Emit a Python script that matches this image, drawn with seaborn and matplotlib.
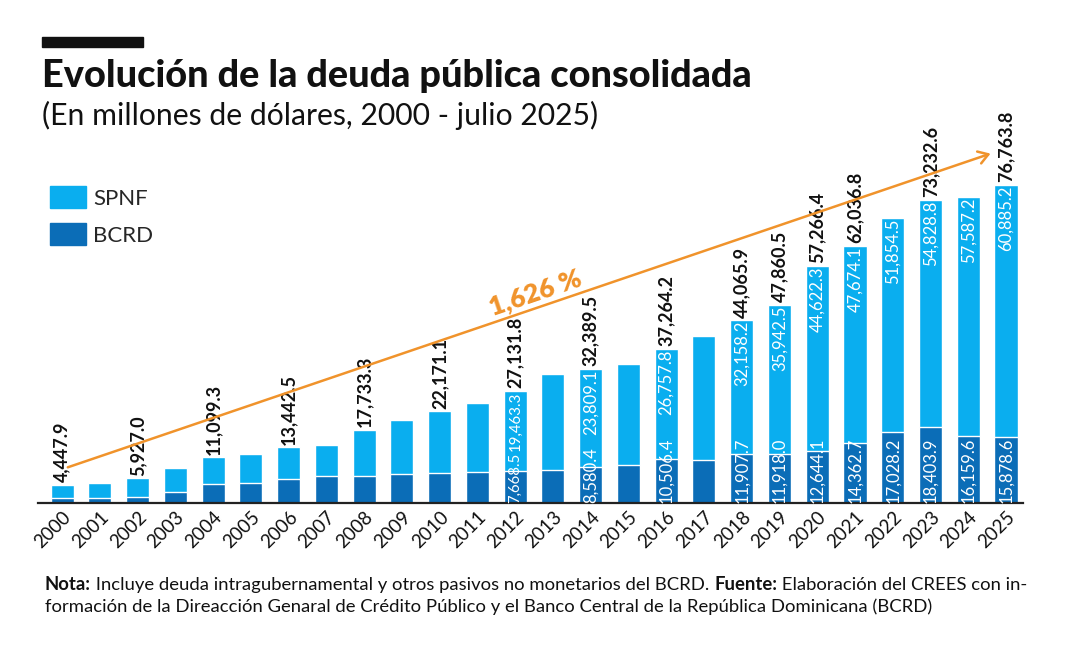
import matplotlib
matplotlib.use('Agg')
import matplotlib.pyplot as plt
import matplotlib.patches as mpatches
import seaborn as sns
import pandas as pd

years = [str(y) for y in range(2000, 2026)]
spnf = [3347.9, 3800, 4427.0, 5800, 6499.3, 7000, 7542.5, 7600, 11333.3, 13000, 14921.1, 16700,
        19463.3, 23200, 23809.1, 24400, 26757.8, 30000, 32158.2, 35942.5, 44622.3, 47674.1,
        51854.5, 54828.8, 57587.2, 60885.2]
bcrd = [1100, 1100, 1500, 2700, 4600, 4900, 5900, 6400, 6400, 7000, 7250, 7500,
        7668.5, 8000, 8580.4, 9200, 10506.4, 10400, 11907.7, 11918.0, 12644.1, 14362.7,
        17028.2, 18403.9, 16159.6, 15878.6]
total_pub = [4447.9, None, 5927.0, None, 11099.3, None, 13442.5, None, 17733.3, None, 22171.1, None,
             27131.8, None, 32389.5, None, 37264.2, None, 44065.9, 47860.5, 57266.4, 62036.8,
             None, 73232.6, None, 76763.8]
parts_shown = [False] * 12 + [True, False, True, False, True, False] + [True] * 8

growth_label = '1,626 %'
arrow_from = (0.08, 8400)
arrow_to = (24.66, 84550)

LIGHT = '#0AAEEF'
DARK = '#0B6DB7'
ORANGE = '#F0932B'
INK = '#111111'

df = pd.DataFrame({'year': years, 'spnf': spnf, 'bcrd': bcrd})
df['stack'] = df['spnf'] + df['bcrd']

sns.set_style('white')
plt.rcParams['font.family'] = ['Lato', 'DejaVu Sans']

fig = plt.figure(figsize=(10.68, 6.68), dpi=100)
ax = fig.add_axes([38 / 1068, 165 / 668, 985 / 1068, 403 / 668])

sns.barplot(data=df, x='year', y='stack', color=LIGHT, saturation=1, width=0.61, ax=ax)
sns.barplot(data=df, x='year', y='bcrd', color=DARK, saturation=1, width=0.61, ax=ax)

ax.set_xlim(-0.64, 25.45)
ax.set_ylim(0, 97270)
ax.set_xlabel('')
ax.set_ylabel('')
ax.set_yticks([])
for s in ['top', 'right', 'left']:
    ax.spines[s].set_visible(False)
ax.spines['bottom'].set_color('#222222')
ax.spines['bottom'].set_linewidth(1.6)
ax.tick_params(axis='x', length=0, pad=4)
plt.setp(ax.get_xticklabels(), rotation=45, ha='right', va='top', rotation_mode='anchor',
         fontsize=13.5, color=INK)

pairs = []
for i in range(len(years)):
    top = df['stack'][i]
    if total_pub[i] is not None:
        ax.text(i, top + 600, '{:,.1f}'.format(total_pub[i]), rotation=90, ha='center', va='bottom',
                fontsize=13, fontweight='bold', color=INK, clip_on=False)
    if parts_shown[i]:
        t1 = ax.text(i, top - 150, '{:,.1f}'.format(spnf[i]), rotation=90, ha='center', va='top',
                     fontsize=12, color='white')
        t2 = ax.text(i, 120, '{:,.1f}'.format(bcrd[i]), rotation=90, ha='center', va='bottom',
                     fontsize=12, color='white')
        pairs.append((i, t1, t2))

# shrink the inside labels of a bar when both do not fit in it
fig.canvas.draw()
rend = fig.canvas.get_renderer()
for i, t1, t2 in pairs:
    y0 = ax.transData.transform((i, 0))[1]
    y1 = ax.transData.transform((i, df['stack'][i]))[1]
    need = t1.get_window_extent(rend).height + t2.get_window_extent(rend).height + 4
    if need > y1 - y0:
        k = (y1 - y0) / need
        t1.set_fontsize(12 * k)
        t2.set_fontsize(12 * k)

ax.annotate('', xy=arrow_to, xytext=arrow_from,
            arrowprops=dict(arrowstyle='->,head_length=0.7,head_width=0.45', color=ORANGE, lw=1.8))
ax.text(12.53, 50700, growth_label, rotation=18.7, ha='center', va='center',
        fontsize=19, fontweight='heavy', color=ORANGE)

# title block
fig.patches.append(mpatches.Rectangle((42 / 1068, 1 - 47 / 668), 101 / 1068, 10 / 668,
                                      transform=fig.transFigure, color=INK))
fig.text(42 / 1068, 1 - 87 / 668, 'Evolución de la deuda pública consolidada', fontsize=27.3,
         fontweight='black', color=INK, va='baseline', ha='left')
fig.text(42 / 1068, 1 - 125 / 668, '(En millones de dólares, 2000 - julio 2025)', fontsize=21.7,
         color=INK, va='baseline', ha='left')

handles = [mpatches.Patch(color=LIGHT, label='SPNF'), mpatches.Patch(color=DARK, label='BCRD')]
fig.legend(handles=handles, loc='upper left', bbox_to_anchor=(50 / 1068, 1 - 186 / 668),
           frameon=False, fontsize=16, handlelength=1.6, handleheight=1.15, labelspacing=0.65,
           handletextpad=0.35, borderpad=0, borderaxespad=0)


# footnote with bold lead words
def run_text(pieces, x, y):
    fig.canvas.draw()
    r = fig.canvas.get_renderer()
    for txt, bold in pieces:
        t = fig.text(x, y, txt, fontsize=13.3, fontweight='bold' if bold else 'normal',
                     color=INK, va='baseline', ha='left')
        bb = t.get_window_extent(renderer=r)
        x += bb.width / fig.bbox.width


run_text([('Nota:', True), (' Incluye deuda intragubernamental y otros pasivos no monetarios del BCRD. ', False),
          ('Fuente:', True), (' Elaboración del CREES con in-', False)], 45 / 1068, 1 - 590 / 668)
run_text([('formación de la Direacción Genaral de Crédito Público y el Banco Central de la República '
           'Dominicana (BCRD)', False)], 45 / 1068, 1 - 612 / 668)

fig.savefig('out.png', dpi=100, facecolor='white')
